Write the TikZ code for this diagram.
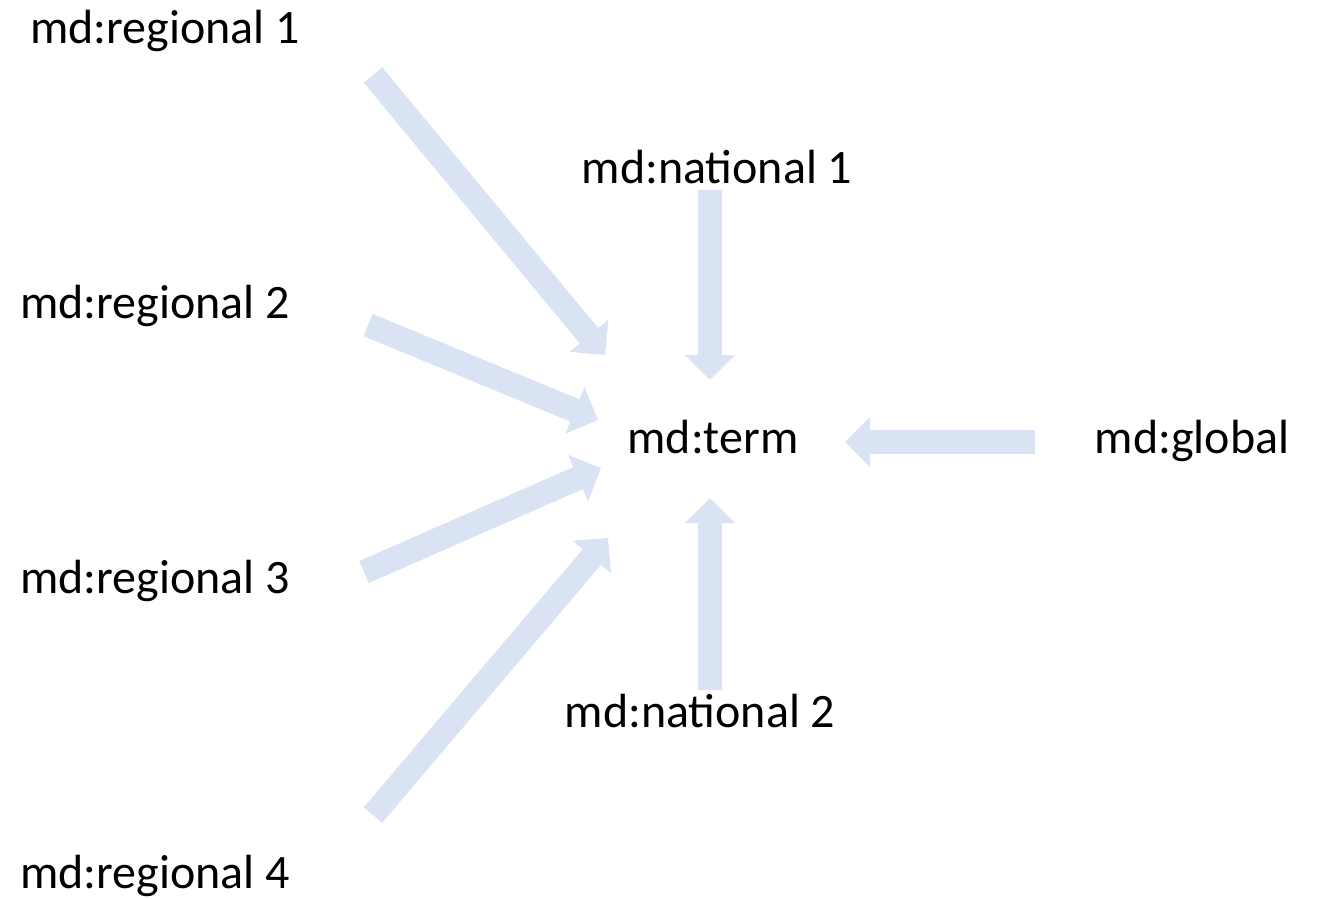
\documentclass[tikz,border=0pt]{standalone}
\usepackage{fontspec}
\setmainfont{Carlito}
\usetikzlibrary{arrows.meta}
\definecolor{arrowblue}{HTML}{DAE3F3}
\begin{document}
\begin{tikzpicture}[x=1pt,y=-1pt,
  lbl/.style={font=\fontsize{48}{50}\selectfont, inner sep=0pt, text=black, anchor=base},
  blockarrow/.style={draw=arrowblue, line width=24pt, -{Triangle[width=49pt,length=25pt]}, arrowblue}]
\useasboundingbox (0,0) rectangle (1318,898);
\node[lbl] (r1) at (165,43) {md:regional 1};
\node[lbl] (r2) at (155,318) {md:regional 2};
\node[lbl] (r3) at (155,593) {md:regional 3};
\node[lbl] (r4) at (155,888) {md:regional 4};
\node[lbl] (n1) at (717,183) {md:national 1};
\node[lbl] (n2) at (700,727) {md:national 2};
\node[lbl] (t) at (713,453) {md:term};
\node[lbl] (g) at (1192,453) {md:global};
\coordinate (a1s) at (373,75);  \coordinate (a1e) at (605,355);
\coordinate (a2s) at (368,325); \coordinate (a2e) at (598,420);
\coordinate (a3s) at (364,572); \coordinate (a3e) at (601,468);
\coordinate (a4s) at (373,815); \coordinate (a4e) at (608,538);
\coordinate (a5s) at (710,190); \coordinate (a5e) at (710,380);
\coordinate (a6s) at (710,690); \coordinate (a6e) at (710,498);
\coordinate (a7s) at (1035,442); \coordinate (a7e) at (845,442);
\foreach \i in {1,...,7} \draw[blockarrow] (a\i s) -- (a\i e);
\end{tikzpicture}
\end{document}
